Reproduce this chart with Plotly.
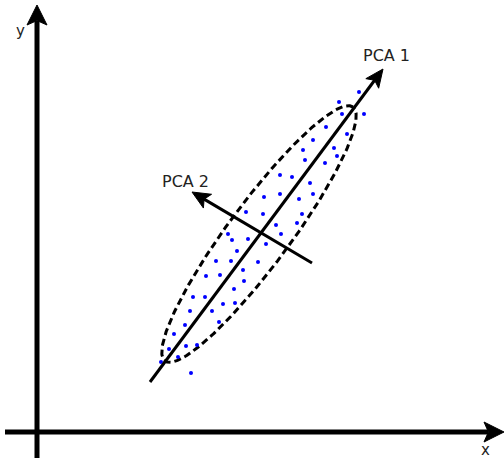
import numpy as np
import plotly.graph_objects as go

# Sample points (data coordinates, origin at the axes crossing)
dots_x = [322, 302, 305, 327, 289, 310, 276, 266, 297, 268, 300, 288, 243, 255, 273,
          243, 227, 276, 262, 209, 226, 265, 239, 260, 191, 195, 211, 229, 244, 200,
          179, 194, 221, 206, 169, 183, 207, 156, 168, 197, 153, 175, 186, 198, 182,
          148, 137, 132, 149, 160, 141, 124, 154]
dots_y = [340, 330, 318, 318, 305, 298, 292, 282, 284, 272, 276, 269, 257, 255, 249,
          238, 235, 238, 233, 220, 218, 218, 207, 209, 198, 192, 193, 188, 198, 181,
          171, 171, 170, 162, 156, 157, 151, 135, 135, 143, 121, 121, 128, 129, 110,
          107, 98, 83, 86, 87, 75, 70, 59]

# Principal axes (start, tip)
pca1_start = (113, 50)
pca1_tip = (346, 363)
pca2_start = (275, 169)
pca2_tip = (155, 240)
pca_labels = ["PCA 1", "PCA 2"]
pca_label_pos = [(349, 377), (148, 251)]

# Ellipse parameters
ell_center = (222, 198)
ell_a, ell_b, ell_angle_deg = 158, 31, 53.5

# Coordinate axes
yaxis_line = ((0, -26), (0, 427))
xaxis_line = ((-32, 0), (467, 0))
axis_labels = ["x", "y"]
axis_label_pos = [(448, -18), (-17, 401)]

XR = [-37, 467]
YR = [-26, 432]

fig = go.Figure()


def arrow(start, tip, width, head_len, head_half, notch_frac=0.78):
    s = np.array(start, float)
    t = np.array(tip, float)
    d = (t - s) / np.linalg.norm(t - s)
    n = np.array([-d[1], d[0]])
    base = t - d * head_len
    notch = t - d * (head_len * notch_frac)
    fig.add_trace(go.Scatter(x=[s[0], notch[0]], y=[s[1], notch[1]],
                             mode="lines", line=dict(color="black", width=width),
                             hoverinfo="skip", showlegend=False))
    p1 = base + n * head_half
    p2 = base - n * head_half
    fig.add_trace(go.Scatter(x=[t[0], p1[0], notch[0], p2[0], t[0]],
                             y=[t[1], p1[1], notch[1], p2[1], t[1]],
                             mode="lines", fill="toself", fillcolor="black",
                             line=dict(color="black", width=1),
                             hoverinfo="skip", showlegend=False))


# Ellipse
th = np.linspace(0, 2 * np.pi, 300)
ang = np.deg2rad(ell_angle_deg)
ex = ell_center[0] + ell_a * np.cos(th) * np.cos(ang) - ell_b * np.sin(th) * np.sin(ang)
ey = ell_center[1] + ell_a * np.cos(th) * np.sin(ang) + ell_b * np.sin(th) * np.cos(ang)
fig.add_trace(go.Scatter(x=ex, y=ey, mode="lines",
                         line=dict(color="black", width=3, dash="7px,4px"),
                         hoverinfo="skip", showlegend=False))

# Dots
fig.add_trace(go.Scatter(x=dots_x, y=dots_y, mode="markers",
                         marker=dict(color="#0000ff", size=4),
                         hoverinfo="skip", showlegend=False))

# Axes arrows
arrow(yaxis_line[0], yaxis_line[1], 5, 20, 10)
arrow(xaxis_line[0], xaxis_line[1], 5, 20, 10)
# PCA arrows
arrow(pca1_start, pca1_tip, 3, 18, 8)
arrow(pca2_start, pca2_tip, 3, 18, 8)

for txt, (x, y) in zip(pca_labels + axis_labels, pca_label_pos + axis_label_pos):
    fig.add_annotation(x=x, y=y, text=txt, showarrow=False,
                       font=dict(family="DejaVu Sans", size=16 if "PCA" in txt else 15,
                                 color="#222222"),
                       xanchor="center", yanchor="middle")

fig.update_layout(
    width=504, height=458,
    margin=dict(l=0, r=0, t=0, b=0),
    paper_bgcolor="white", plot_bgcolor="white",
    xaxis=dict(range=XR, visible=False, fixedrange=True),
    yaxis=dict(range=YR, visible=False, fixedrange=True),
    showlegend=False,
)

fig.write_html("out.html", config={"displayModeBar": False},
               post_script="document.body.style.margin='0';")
